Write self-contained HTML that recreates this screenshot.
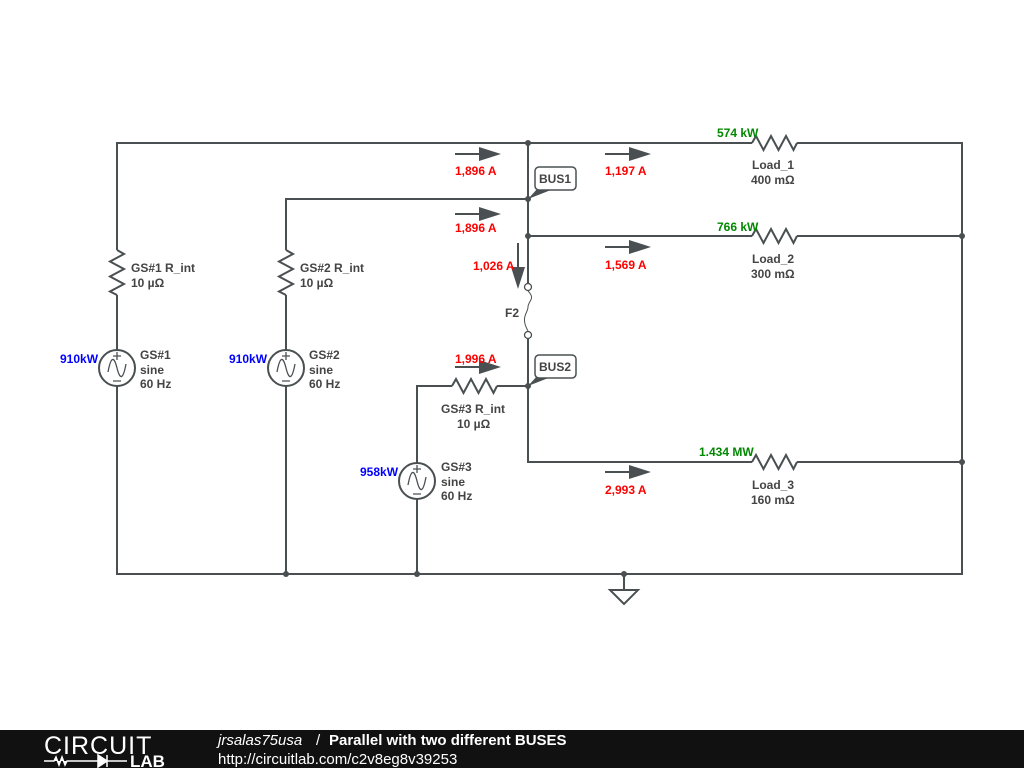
<!DOCTYPE html>
<html><head><meta charset="utf-8"><style>
html,body{margin:0;padding:0;background:#fff;width:1024px;height:768px;overflow:hidden}
svg{display:block}
text{font-family:"Liberation Sans",Arial,sans-serif;font-weight:bold;font-size:12px}
.l{fill:#444}.r{fill:#f00}.b{fill:#00f}.g{fill:#080}
</style></head><body>
<svg width="1024" height="768" viewBox="0 0 1024 768" xmlns="http://www.w3.org/2000/svg">
<g fill="none" stroke="#4a5052" stroke-width="2">
<path d="M117 250 V143 H752 M797 143 H962 V574 H117 V386"/>
<path d="M117 295 V350"/>
<path d="M286 250 V199 H528"/>
<path d="M286 295 V350 M286 386 V574"/>
<path d="M528 143 V284 M528 338 V462 H752 M797 462 H962"/>
<path d="M528 236 H752 M797 236 H962"/>
<path d="M417 463 V386 H452 M497 386 H528 M417 499 V574"/>
<path d="M624 574 V590"/>
<path d="M752 143 l4 -7 l7.5 14 l7.5 -14 l7.5 14 l7.5 -14 l7.5 14 l3.5 -7"/>
<path d="M752 236 l4 -7 l7.5 14 l7.5 -14 l7.5 14 l7.5 -14 l7.5 14 l3.5 -7"/>
<path d="M752 462 l4 -7 l7.5 14 l7.5 -14 l7.5 14 l7.5 -14 l7.5 14 l3.5 -7"/>
<path d="M452 386 l4 -7 l7.5 14 l7.5 -14 l7.5 14 l7.5 -14 l7.5 14 l3.5 -7"/>
<path d="M117 250 l7 4 l-14 7.5 l14 7.5 l-14 7.5 l14 7.5 l-14 7.5 l7 3.5"/>
<path d="M286 250 l7 4 l-14 7.5 l14 7.5 l-14 7.5 l14 7.5 l-14 7.5 l7 3.5"/>
<circle cx="117" cy="368" r="18"/>
<circle cx="286" cy="368" r="18"/>
<circle cx="417" cy="481" r="18"/>
<path d="M610 590 H638 L624 604 Z"/>
</g>
<g fill="none" stroke="#4a5052" stroke-width="1.3">
<path d="M108 372 c3 -16 6 -16 9 -4 s6 12 9 -4"/>
<path d="M277 372 c3 -16 6 -16 9 -4 s6 12 9 -4"/>
<path d="M408 485 c3 -16 6 -16 9 -4 s6 12 9 -4"/>
<path d="M113 356 h8 M117 352 v8 M113 381 h8"/>
<path d="M282 356 h8 M286 352 v8 M282 381 h8"/>
<path d="M413 469 h8 M417 465 v8 M413 494 h8"/>
<circle cx="528" cy="287" r="3.5" fill="#fff"/>
<circle cx="528" cy="335" r="3.5" fill="#fff"/>
<path d="M528 291 c8 8 0 10 0 16 s-8 10 0 24" stroke-width="1"/>
</g>
<g fill="#4a5052">
<circle cx="528" cy="143" r="3"/><circle cx="528" cy="199" r="3"/><circle cx="528" cy="236" r="3"/>
<circle cx="528" cy="386" r="3"/><circle cx="962" cy="236" r="3"/><circle cx="962" cy="462" r="3"/>
<circle cx="286" cy="574" r="3"/><circle cx="417" cy="574" r="3"/><circle cx="624" cy="574" r="3"/>
<path d="M455 153 h24 v-6 l22 7 l-22 7 v-6 h-24z"/>
<path d="M455 213 h24 v-6 l22 7 l-22 7 v-6 h-24z"/>
<path d="M605 153 h24 v-6 l22 7 l-22 7 v-6 h-24z"/>
<path d="M605 246 h24 v-6 l22 7 l-22 7 v-6 h-24z"/>
<path d="M605 471 h24 v-6 l22 7 l-22 7 v-6 h-24z"/>
<path d="M455 366 h24 v-6 l22 7 l-22 7 v-6 h-24z"/>
<path d="M517 243 v24 h-6 l7 22 l7 -22 h-6 v-24z"/>
<path d="M528 199 L538 188 L556 188 Z"/>
<path d="M528 386 L538 375 L556 375 Z"/>
</g>
<g fill="#fff" stroke="#4a5052" stroke-width="1.5">
<rect x="535" y="167" width="41" height="23" rx="4"/>
<rect x="535" y="355" width="41" height="23" rx="4"/>
</g>
<text x="539" y="183" class="l">BUS1</text>
<text x="539" y="371" class="l">BUS2</text>
<text x="131" y="272" class="l">GS#1 R_int</text><text x="131" y="287" class="l">10 µΩ</text>
<text x="300" y="272" class="l">GS#2 R_int</text><text x="300" y="287" class="l">10 µΩ</text>
<text x="140" y="359" class="l">GS#1</text><text x="140" y="374" class="l">sine</text><text x="140" y="388" class="l">60 Hz</text>
<text x="309" y="359" class="l">GS#2</text><text x="309" y="374" class="l">sine</text><text x="309" y="388" class="l">60 Hz</text>
<text x="441" y="471" class="l">GS#3</text><text x="441" y="486" class="l">sine</text><text x="441" y="500" class="l">60 Hz</text>
<text x="441" y="413" class="l">GS#3 R_int</text><text x="457" y="428" class="l">10 µΩ</text>
<text x="505" y="317" class="l">F2</text>
<text x="752" y="169" class="l">Load_1</text><text x="751" y="184" class="l">400 mΩ</text>
<text x="752" y="263" class="l">Load_2</text><text x="751" y="278" class="l">300 mΩ</text>
<text x="752" y="489" class="l">Load_3</text><text x="751" y="504" class="l">160 mΩ</text>
<text x="60" y="363" class="b">910kW</text>
<text x="229" y="363" class="b">910kW</text>
<text x="360" y="476" class="b">958kW</text>
<text x="717" y="137" class="g">574 kW</text>
<text x="717" y="231" class="g">766 kW</text>
<text x="699" y="456" class="g">1.434 MW</text>
<text x="455" y="175" class="r">1,896 A</text>
<text x="455" y="232" class="r">1,896 A</text>
<text x="473" y="270" class="r">1,026 A</text>
<text x="455" y="363" class="r">1,996 A</text>
<text x="605" y="175" class="r">1,197 A</text>
<text x="605" y="269" class="r">1,569 A</text>
<text x="605" y="494" class="r">2,993 A</text>
<rect x="0" y="730" width="1024" height="38" fill="#111"/>
<text x="44" y="754" style="font-weight:normal;font-size:25px;fill:#fff;letter-spacing:1px">CIRCUIT</text>
<path d="M44 761 h10 l2 -4 l3 8 l3 -8 l3 8 l2 -4 h10 M77 761 h21 M98 755 v12 l9 -6z M107 755 v12 M107 761 h20" stroke="#fff" stroke-width="1.5" fill="#fff"/>
<text x="130" y="767" style="font-size:17px;fill:#fff">LAB</text>
<text x="218" y="745" style="font-weight:normal;font-style:italic;font-size:15px;fill:#fff">jrsalas75usa</text>
<text x="316" y="745" style="font-weight:normal;font-size:15px;fill:#fff">/</text>
<text x="329" y="745" style="font-size:15px;fill:#fff">Parallel with two different BUSES</text>
<text x="218" y="764" style="font-weight:normal;font-size:15px;fill:#fff">http://circuitlab.com/c2v8eg8v39253</text>
</svg>
</body></html>
